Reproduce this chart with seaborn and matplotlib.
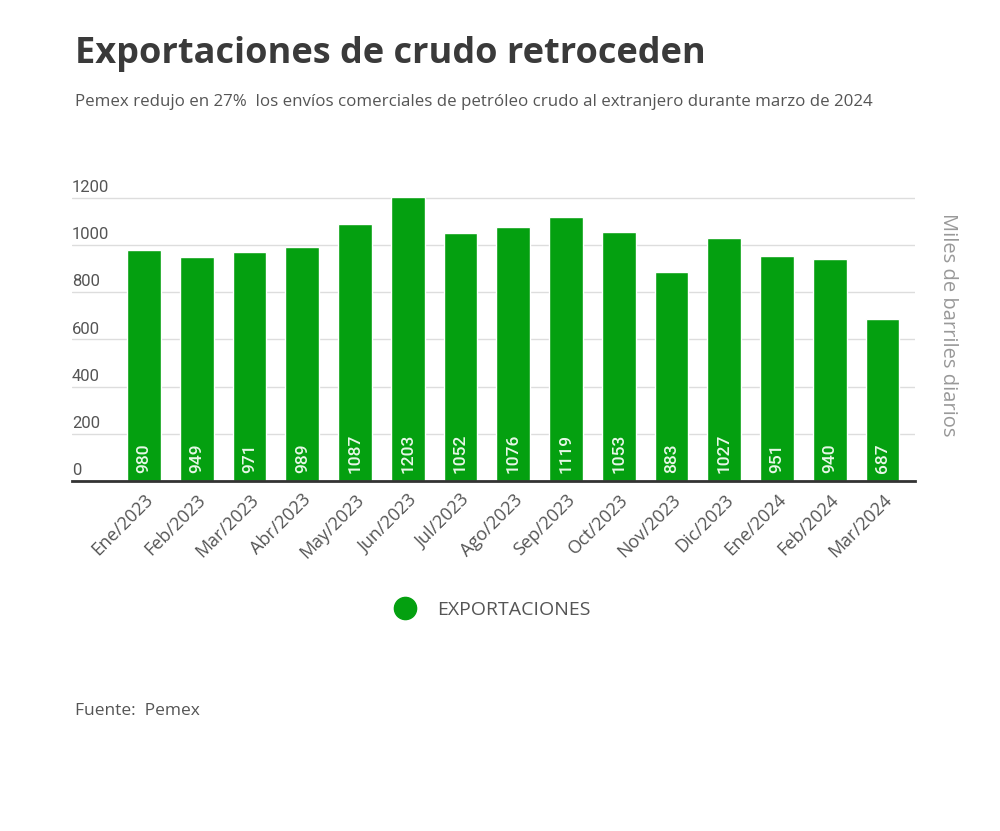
import pandas as pd
import seaborn as sns
import matplotlib.pyplot as plt
from matplotlib.lines import Line2D

# Datos
meses = ["Ene/2023", "Feb/2023", "Mar/2023", "Abr/2023", "May/2023", "Jun/2023",
         "Jul/2023", "Ago/2023", "Sep/2023", "Oct/2023", "Nov/2023", "Dic/2023",
         "Ene/2024", "Feb/2024", "Mar/2024"]
exportaciones = [980, 949, 971, 989, 1087, 1203, 1052, 1076, 1119, 1053, 883, 1027, 951, 940, 687]
y_ticks = [0, 200, 400, 600, 800, 1000, 1200]

verde = "#04a010"
gris = "#555555"

df = pd.DataFrame({"mes": meses, "valor": exportaciones})

sns.set_style("white")
plt.rcParams['font.family'] = ['Open Sans', 'DejaVu Sans']

fig = plt.figure(figsize=(10, 8.31), dpi=100)
ax = fig.add_axes([0.072, 0.4212, 0.843, 0.358])

sns.barplot(data=df, x="mes", y="valor", color=verde, width=0.64, saturation=1, ax=ax)

ax.set_ylim(0, 1260)
ax.set_xlim(-1.365, 14.616)
ax.set_yticks(y_ticks)
ax.set_yticklabels([])
ax.tick_params(axis="y", length=0)
ax.grid(axis="y", color="#dddddd", linewidth=1)
ax.set_axisbelow(True)
for s in ["top", "right", "left"]:
    ax.spines[s].set_visible(False)
ax.spines["bottom"].set_color("#333333")
ax.spines["bottom"].set_linewidth(2)

# etiquetas del eje y encima de las lineas
for t in y_ticks:
    ax.annotate(str(t), xy=(0, t), xycoords=("axes fraction", "data"),
                xytext=(0, 2), textcoords="offset points",
                ha="left", va="bottom", fontsize=12, color=gris, family="Roboto")

ax.set_xlabel("")
ax.set_ylabel("")
ax.tick_params(axis="x", length=0, pad=7)
ax.set_xticks(range(len(meses)))
ax.set_xticklabels(meses, rotation=45, ha="right", rotation_mode="anchor",
                   fontsize=13, color=gris)

for i, v in enumerate(exportaciones):
    ax.annotate(str(v), xy=(i, 0), xytext=(0, 6), textcoords="offset points",
                rotation=90, ha="center", va="bottom", fontsize=12.5,
                color="#e8f8e8", family="Roboto", fontweight="medium")

fig.text(0.948, 0.609, "Miles de barriles diarios", rotation=-90, ha="center", va="center",
         fontsize=14.5, color="#999999")

fig.text(0.075, 0.935, "Exportaciones de crudo retroceden", fontsize=26, fontweight="bold",
         color="#3a3a3a", ha="left", va="center")
fig.text(0.075, 0.877, "Pemex redujo en 27%  los envíos comerciales de petróleo crudo al extranjero durante marzo de 2024",
         fontsize=12.2, color=gris, ha="left", va="center")
fig.text(0.075, 0.145, "Fuente:  Pemex", fontsize=12.5, color=gris, ha="left", va="center")

handle = Line2D([], [], marker="o", linestyle="", markersize=16, color=verde)
fig.legend([handle], ["EXPORTACIONES"], loc="center", bbox_to_anchor=(0.488, 0.266),
           frameon=False, fontsize=14, labelcolor=gris, handletextpad=0.7)

fig.savefig("out.png", dpi=100)
